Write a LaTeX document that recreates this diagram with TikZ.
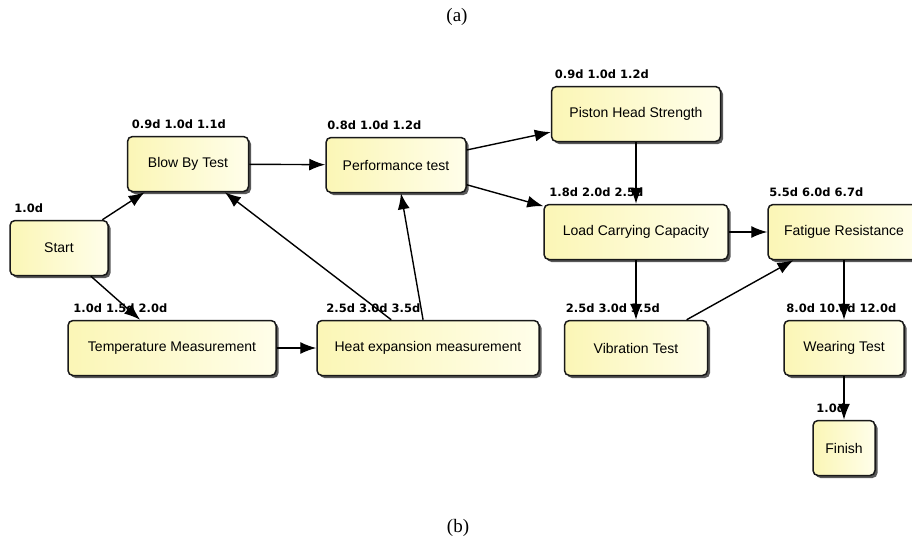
\documentclass[tikz,border=0pt]{standalone}
\usepackage{fontspec}
\usepackage[x11names, rgb]{xcolor}
\usepackage{tikz}
\usetikzlibrary{calc,arrows.meta,shapes,positioning,shadows}
\newfontfamily\boxfont{Liberation Sans}
\newfontfamily\durfont{DejaVu Sans}
\newfontfamily\capfont{Liberation Serif}
\definecolor{boxleft}{RGB}{251,246,182}
\definecolor{boxright}{RGB}{255,254,234}

\begin{document}
\begin{tikzpicture}[x=1pt, y=-1pt,
	task/.style={draw=black!90, line width=1.5pt, rounded corners=5pt, minimum height=55pt,
		left color=boxleft, right color=boxright, inner sep=2pt,
		drop shadow={shadow xshift=2.5pt, shadow yshift=-2.5pt, fill=black, opacity=.65},
		font=\boxfont\fontsize{14}{16}\selectfont},
	dur/.style={inner sep=0pt, font=\durfont\bfseries\fontsize{11.5}{13}\selectfont},
	flow/.style={-{Latex[length=16pt, width=12pt]}, line width=1.4pt}]
		\useasboundingbox (0,0) rectangle (912,541);
		\node (capa) [font=\capfont\fontsize{19}{21}\selectfont] at (457,17) {(a)};
		\node (capb) [font=\capfont\fontsize{19}{21}\selectfont] at (458,528) {(b)};

		\node (start) [task, minimum width=98pt] at (59,248) {Start};
		\node (blow) [task, minimum width=121pt] at (188,164) {Blow By Test};
		\node (perf) [task, minimum width=140pt] at (396,165) {Performance test};
		\node (piston) [task, minimum width=169pt] at (636,114) {Piston Head Strength};
		\node (load) [task, minimum width=184pt] at (636,232) {Load Carrying Capacity};
		\node (fatigue) [task, minimum width=152pt] at (844,232) {Fatigue Resistance};
		\node (temp) [task, minimum width=208pt] at (172,348) {Temperature Measurement};
		\node (heat) [task, minimum width=222pt] at (428,348) {Heat expansion measurement};
		\node (vib) [task, minimum width=143pt] at (636,348) {Vibration Test};
		\node (wear) [task, minimum width=120pt] at (844,348) {Wearing Test};
		\node (finish) [task, minimum width=62pt] at (844,448) {Finish};

		\node (dstart) [dur, above right=7pt and 5pt of start.north west] {1.0d};
		\node (dblow) [dur, above right=7pt and 5pt of blow.north west] {0.9d 1.0d 1.1d};
		\node (dperf) [dur, above right=7pt and 2pt of perf.north west] {0.8d 1.0d 1.2d};
		\node (dpiston) [dur, above right=7pt and 4pt of piston.north west] {0.9d 1.0d 1.2d};
		\node (dload) [dur, above right=7pt and 6pt of load.north west] {1.8d 2.0d 2.5d};
		\node (dfatigue) [dur, above right=7pt and 2pt of fatigue.north west] {5.5d 6.0d 6.7d};
		\node (dtemp) [dur, above right=7pt and 6pt of temp.north west] {1.0d 1.5d 2.0d};
		\node (dheat) [dur, above right=7pt and 10pt of heat.north west] {2.5d 3.0d 3.5d};
		\node (dvib) [dur, above right=7pt and 2pt of vib.north west] {2.5d 3.0d 3.5d};
		\node (dwear) [dur, above right=7pt and 3pt of wear.north west] {8.0d 10.0d 12.0d};
		\node (dfinish) [dur, above right=7pt and 4pt of finish.north west] {1.0d};

		\draw[flow] (start) -- (blow);
		\draw[flow] (start) -- (temp);
		\draw[flow] (blow) -- (perf);
		\draw[flow] (temp) -- (heat);
		\draw[flow] (heat) -- (blow);
		\draw[flow] (heat) -- (perf);
		\draw[flow] (perf) -- (piston);
		\draw[flow] (perf) -- (load);
		\draw[flow] (piston) -- (load);
		\draw[flow] (load) -- (fatigue);
		\draw[flow] (load) -- (vib);
		\draw[flow] (vib) -- (fatigue);
		\draw[flow] (fatigue) -- (wear);
		\draw[flow] (wear) -- (finish);
	\end{tikzpicture}
\end{document}
